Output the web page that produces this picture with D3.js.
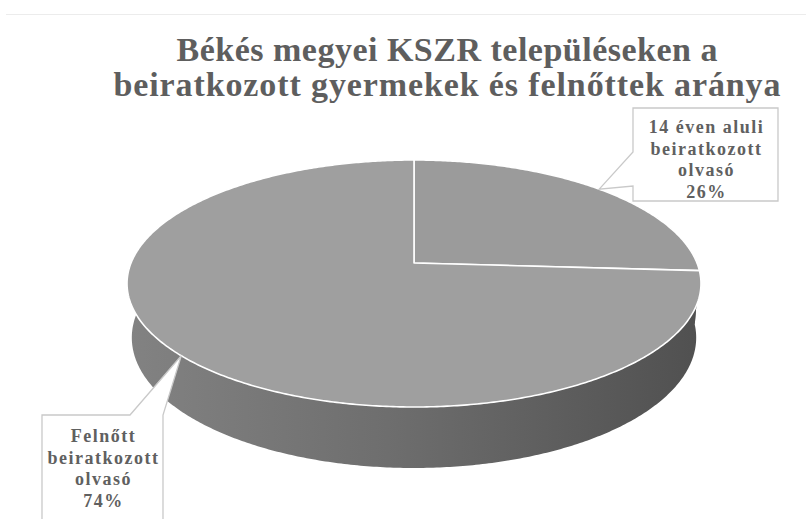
<!DOCTYPE html>
<html>
<head>
<meta charset="utf-8">
<script src="https://cdn.jsdelivr.net/npm/d3@7"></script>
<style>
  body { margin: 0; background: #fff; }
  svg { display: block; }
</style>
</head>
<body>
<script>
// chart data
var titleLines = ["Békés megyei KSZR településeken a", "beiratkozott gyermekek és felnőttek aránya"];
var categories = ["14 éven aluli beiratkozott olvasó", "Felnőtt beiratkozott olvasó"];
var labelLines = [["14 éven aluli", "beiratkozott", "olvasó"], ["Felnőtt", "beiratkozott", "olvasó"]];
var values = [26, 74];
var percentLabels = ["26%", "74%"];

var w = 807, h = 519;

var svg = d3.select("body").append("svg")
  .attr("width", w)
  .attr("height", h);

svg.append("rect").attr("width", w).attr("height", h).attr("fill", "#fff");

// faint chart area border from the scan
svg.append("line")
  .attr("x1", 6).attr("x2", 806).attr("y1", 14.5).attr("y2", 14.5)
  .attr("stroke", "#ececec").attr("stroke-width", 1);

// perspective projection of the 3d pie
var cx = 414, cy = 263;
var tilt = Math.asin(0.4244);
var sinT = Math.sin(tilt), cosT = Math.cos(tilt);
var dist = 5.456, focal = 1544, thick = 0.2117;

function project(angle, r, y) {
  var x = r * Math.sin(angle), z = -r * Math.cos(angle);
  var depth = dist - (y * sinT + z * cosT);
  return [cx + focal * x / depth, cy - focal * (y * cosT - z * sinT) / depth];
}

function rim(a0, a1, y) {
  var n = Math.max(2, Math.ceil(Math.abs(a1 - a0) / 0.01));
  return d3.range(n + 1).map(function(i) { return project(a0 + (a1 - a0) * i / n, 1, y); });
}

var pie = d3.pie().sort(null).startAngle(0).endAngle(2 * Math.PI);
var arcs = pie(values);

var line = d3.line();

var defs = svg.append("defs");
var grad = defs.append("linearGradient")
  .attr("id", "side")
  .attr("gradientUnits", "userSpaceOnUse")
  .attr("x1", 130).attr("x2", 702).attr("y1", 0).attr("y2", 0);
grad.append("stop").attr("offset", 0).attr("stop-color", "#828282");
grad.append("stop").attr("offset", 0.45).attr("stop-color", "#6e6e6e");
grad.append("stop").attr("offset", 1).attr("stop-color", "#505050");

var topColors = ["#9b9b9b", "#9f9f9f"];

// outer walls
svg.selectAll("path.side")
  .data(arcs)
  .enter()
  .append("path")
  .attr("class", "side")
  .attr("d", function(d) {
    var upper = rim(d.startAngle, d.endAngle, 0);
    var lower = rim(d.endAngle, d.startAngle, -thick);
    return line(upper.concat(lower)) + "Z";
  })
  .attr("fill", "url(#side)");

// top faces
svg.selectAll("path.top")
  .data(arcs)
  .enter()
  .append("path")
  .attr("class", "top")
  .attr("d", function(d) {
    return line([[cx, cy]].concat(rim(d.startAngle, d.endAngle, 0))) + "Z";
  })
  .attr("fill", function(d, i) { return topColors[i]; })
  .attr("stroke", "#fff")
  .attr("stroke-width", 1.6)
  .attr("stroke-linejoin", "round");

// title
var titleWidths = [541, 667];
svg.append("g")
  .selectAll("text")
  .data(titleLines)
  .enter()
  .append("text")
  .attr("x", 447)
  .attr("y", function(d, i) { return 61 + i * 35; })
  .attr("text-anchor", "middle")
  .attr("textLength", function(d, i) { return titleWidths[i]; })
  .attr("lengthAdjust", "spacing")
  .style("font-family", "'Liberation Serif', serif")
  .style("font-weight", "bold")
  .style("font-size", "34px")
  .style("fill", "#5e5e5e")
  .text(function(d) { return d; });

// callouts
var boxes = [
  {x0: 633, x1: 778, y0: 108, y1: 201, baseY: 133},
  {x0: 42, x1: 163, y0: 415, y1: 530, baseY: 442}
];

function calloutPath(b, tip, i) {
  var p;
  if (i === 0) {
    p = [[b.x0, b.y0], [b.x1, b.y0], [b.x1, b.y1], [b.x0, b.y1], [b.x0, 186], tip, [b.x0, 152]];
  } else {
    p = [[b.x0, b.y0], [130, b.y0], tip, [b.x1, b.y0], [b.x1, b.y1], [b.x0, b.y1]];
  }
  return line(p) + "Z";
}

var callout = svg.selectAll("g.callout")
  .data(arcs)
  .enter()
  .append("g")
  .attr("class", "callout");

callout.append("path")
  .attr("d", function(d, i) {
    var tip = project((d.startAngle + d.endAngle) / 2, 1, 0);
    return calloutPath(boxes[i], tip, i);
  })
  .attr("fill", "#fff")
  .attr("stroke", "#c9c9c9")
  .attr("stroke-width", 1.3);

callout.each(function(d, i) {
  var b = boxes[i];
  var lines = labelLines[i].concat([percentLabels[i]]);
  d3.select(this).selectAll("text")
    .data(lines)
    .enter()
    .append("text")
    .attr("x", (b.x0 + b.x1) / 2 + 1)
    .attr("y", function(t, j) { return b.baseY + j * 21.5; })
    .attr("text-anchor", "middle")
    .style("font-family", "'Liberation Serif', serif")
    .style("font-weight", "bold")
    .style("font-size", "18px")
    .style("letter-spacing", "1.5px")
    .style("fill", "#606060")
    .text(function(t) { return t; });
});
</script>
</body>
</html>
